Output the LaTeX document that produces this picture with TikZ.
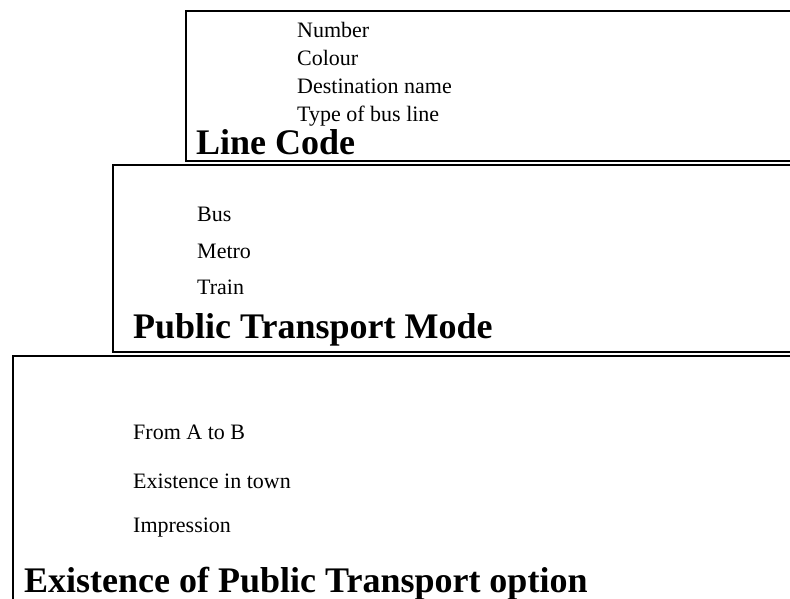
\documentclass[tikz,border=0pt]{standalone}
\usepackage{fontspec}
\setmainfont{Liberation Serif}
\begin{document}
\begin{tikzpicture}[x=1pt,y=-1pt,
  panel/.style={draw=black,line width=2.2pt,fill=white},
  item/.style={anchor=base west,inner sep=0pt,font=\fontsize{22}{26}\selectfont},
  heading/.style={anchor=base west,inner sep=0pt,font=\fontsize{36}{40}\selectfont\bfseries}]
\useasboundingbox (0,0) rectangle (790,599);
\clip (0,0) rectangle (790,599);

% Line Code panel
\draw[panel] (800,11) -- (186,11) -- (186,161) -- (800,161);
\node[item] (num) at (297,38) {Number};
\node[item] (col) at (297,66) {Colour};
\node[item] (dest) at (297,94) {Destination name};
\node[item] (type) at (297,122) {Type of bus line};
\node[heading] (lc) at (196,155) {Line Code};

% Public Transport Mode panel
\draw[panel] (800,165) -- (113,165) -- (113,352) -- (800,352);
\node[item] (bus) at (197,222) {Bus};
\node[item] (metro) at (197,258) {Metro};
\node[item] (train) at (197,294) {Train};
\node[heading] (ptm) at (133,338) {Public Transport Mode};

% Existence of Public Transport option panel
\draw[panel] (800,356) -- (13,356) -- (13,620);
\node[item] (ab) at (133,439) {From A to B};
\node[item] (town) at (133,488) {Existence in town};
\node[item] (imp) at (133,532) {Impression};
\node[heading] (ex) at (24,592) {Existence of Public Transport option};
\end{tikzpicture}
\end{document}
